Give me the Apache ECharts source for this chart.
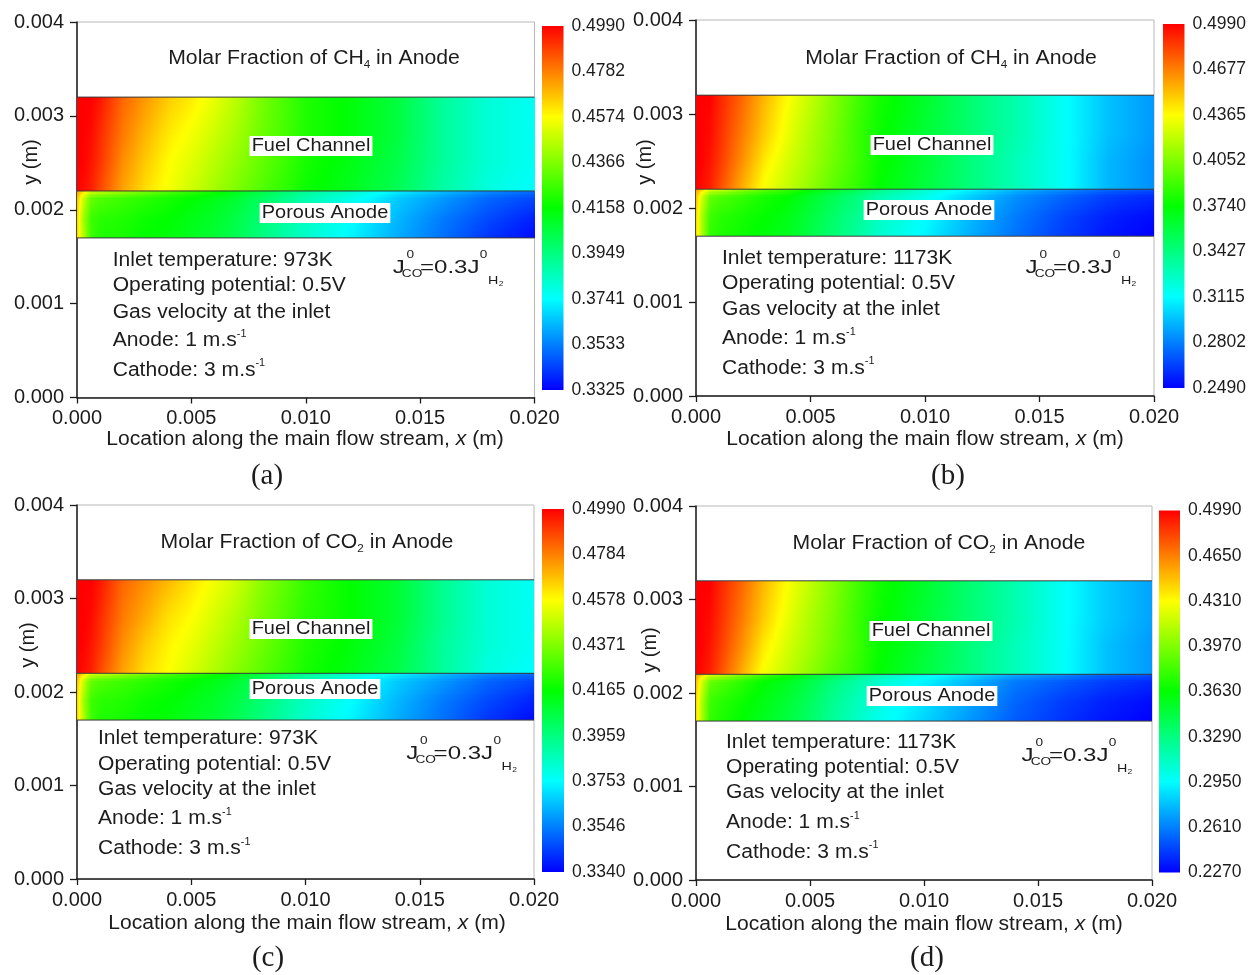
<!DOCTYPE html>
<html><head><meta charset="utf-8">
<script src="https://cdn.jsdelivr.net/npm/echarts@6/dist/echarts.min.js"></script>
<style>html,body{margin:0;padding:0;background:#fff}#c{width:1249px;height:975px}</style>
</head><body><div id="c"></div>
<script>
// ---------------- DATA ----------------
// sample x positions (m) along flow
const xSamples = [0, 0.0002, 0.0006, 0.001, 0.002, 0.003, 0.004, 0.005, 0.006, 0.007, 0.008, 0.010, 0.012, 0.014, 0.016, 0.018, 0.020];
// sample rows (m): fuel channel and porous anode
const channelY = [0.0022, 0.0025, 0.0028, 0.0032];
const anodeY = [0.0017, 0.0019, 0.00212, 0.0022];
const interfaceY = [0.0017, 0.0022, 0.0032];

// (a) CH4, 973 K
const chA = [
 [0.4990,0.4973,0.4940,0.4873,0.4724,0.4624,0.4557,0.4491,0.4424,0.4357,0.4291,0.4174,0.4108,0.4024,0.3891,0.3791,0.3741],
 [0.4990,0.4990,0.4957,0.4907,0.4757,0.4657,0.4574,0.4524,0.4457,0.4391,0.4324,0.4191,0.4124,0.4041,0.3908,0.3808,0.3758],
 [0.4990,0.4990,0.4973,0.4923,0.4790,0.4690,0.4607,0.4557,0.4491,0.4424,0.4341,0.4207,0.4141,0.4058,0.3908,0.3808,0.3758],
 [0.4990,0.4990,0.4990,0.4957,0.4824,0.4740,0.4657,0.4607,0.4540,0.4457,0.4357,0.4207,0.4141,0.4058,0.3908,0.3808,0.3758]
];
const anA = [
 [0.4657,0.4491,0.4257,0.4207,0.4191,0.4158,0.4141,0.4108,0.4074,0.4024,0.3958,0.3825,0.3725,0.3608,0.3508,0.3408,0.3342],
 [0.4657,0.4457,0.4257,0.4224,0.4207,0.4174,0.4158,0.4124,0.4091,0.4041,0.3974,0.3841,0.3741,0.3625,0.3525,0.3442,0.3375],
 [0.4690,0.4524,0.4324,0.4291,0.4257,0.4224,0.4191,0.4158,0.4124,0.4074,0.4008,0.3874,0.3775,0.3658,0.3575,0.3492,0.3442],
 [0.4740,0.4657,0.4524,0.4491,0.4424,0.4357,0.4291,0.4241,0.4191,0.4124,0.4058,0.3924,0.3825,0.3725,0.3641,0.3558,0.3508]
];
// (b) CH4, 1173 K
const chB = [
 [0.4990,0.4965,0.4915,0.4815,0.4565,0.4340,0.4215,0.4090,0.3965,0.3865,0.3740,0.3590,0.3440,0.3290,0.3140,0.2940,0.2840],
 [0.4990,0.4990,0.4940,0.4865,0.4640,0.4415,0.4265,0.4140,0.4015,0.3890,0.3765,0.3615,0.3440,0.3290,0.3140,0.2940,0.2840],
 [0.4990,0.4990,0.4965,0.4890,0.4690,0.4490,0.4315,0.4165,0.4040,0.3890,0.3765,0.3615,0.3465,0.3315,0.3140,0.2965,0.2865],
 [0.4990,0.4990,0.4990,0.4915,0.4740,0.4540,0.4365,0.4215,0.4065,0.3915,0.3790,0.3640,0.3465,0.3315,0.3140,0.2965,0.2865]
];
const anB = [
 [0.4490,0.4190,0.3865,0.3815,0.3765,0.3715,0.3665,0.3565,0.3465,0.3365,0.3240,0.3090,0.2915,0.2765,0.2640,0.2540,0.2490],
 [0.4490,0.4190,0.3890,0.3840,0.3790,0.3740,0.3690,0.3590,0.3490,0.3390,0.3265,0.3115,0.2940,0.2790,0.2665,0.2565,0.2515],
 [0.4540,0.4290,0.3990,0.3940,0.3865,0.3790,0.3740,0.3640,0.3540,0.3440,0.3315,0.3165,0.2990,0.2840,0.2740,0.2640,0.2590],
 [0.4615,0.4490,0.4290,0.4240,0.4090,0.3965,0.3865,0.3740,0.3640,0.3540,0.3415,0.3240,0.3090,0.2940,0.2840,0.2740,0.2690]
];
// (c) CO2, 973 K
const chC = [
 [0.4990,0.4974,0.4941,0.4875,0.4726,0.4627,0.4578,0.4512,0.4446,0.4380,0.4314,0.4198,0.4132,0.4050,0.3918,0.3802,0.3753],
 [0.4990,0.4990,0.4957,0.4908,0.4759,0.4660,0.4594,0.4545,0.4479,0.4413,0.4347,0.4215,0.4149,0.4066,0.3918,0.3819,0.3769],
 [0.4990,0.4990,0.4974,0.4924,0.4792,0.4710,0.4627,0.4578,0.4512,0.4446,0.4363,0.4231,0.4165,0.4083,0.3934,0.3819,0.3769],
 [0.4990,0.4990,0.4990,0.4957,0.4825,0.4759,0.4693,0.4627,0.4561,0.4495,0.4396,0.4248,0.4165,0.4083,0.3934,0.3819,0.3769]
];
const anC = [
 [0.4660,0.4495,0.4264,0.4215,0.4198,0.4165,0.4149,0.4116,0.4083,0.4033,0.3967,0.3835,0.3736,0.3621,0.3522,0.3423,0.3357],
 [0.4660,0.4462,0.4264,0.4231,0.4215,0.4182,0.4165,0.4132,0.4099,0.4050,0.3984,0.3852,0.3753,0.3637,0.3538,0.3456,0.3390],
 [0.4693,0.4528,0.4330,0.4297,0.4264,0.4231,0.4198,0.4165,0.4132,0.4083,0.4017,0.3885,0.3786,0.3670,0.3588,0.3505,0.3456],
 [0.4743,0.4660,0.4528,0.4495,0.4429,0.4363,0.4297,0.4248,0.4198,0.4132,0.4066,0.3934,0.3835,0.3736,0.3654,0.3571,0.3522]
];
// (d) CO2, 1173 K
const chD = [
 [0.4990,0.4963,0.4908,0.4800,0.4528,0.4283,0.4147,0.4011,0.3875,0.3766,0.3630,0.3467,0.3304,0.3140,0.2977,0.2787,0.2678],
 [0.4990,0.4990,0.4936,0.4854,0.4609,0.4364,0.4201,0.4065,0.3929,0.3793,0.3657,0.3494,0.3304,0.3140,0.2977,0.2787,0.2678],
 [0.4990,0.4990,0.4963,0.4881,0.4664,0.4446,0.4256,0.4092,0.3956,0.3793,0.3657,0.3494,0.3331,0.3168,0.2977,0.2814,0.2705],
 [0.4990,0.4990,0.4990,0.4908,0.4718,0.4500,0.4310,0.4147,0.3984,0.3820,0.3684,0.3521,0.3331,0.3168,0.2977,0.2814,0.2705]
];
const anD = [
 [0.4446,0.4120,0.3766,0.3712,0.3630,0.3548,0.3467,0.3358,0.3222,0.3113,0.3004,0.2841,0.2678,0.2515,0.2406,0.2324,0.2270],
 [0.4446,0.4120,0.3793,0.3739,0.3657,0.3576,0.3494,0.3385,0.3249,0.3140,0.3032,0.2868,0.2705,0.2542,0.2433,0.2352,0.2297],
 [0.4500,0.4228,0.3902,0.3848,0.3739,0.3630,0.3548,0.3440,0.3304,0.3195,0.3086,0.2923,0.2760,0.2596,0.2515,0.2433,0.2379],
 [0.4582,0.4446,0.4228,0.4174,0.3984,0.3820,0.3684,0.3548,0.3412,0.3276,0.3168,0.3004,0.2868,0.2732,0.2651,0.2542,0.2488]
];

// colour-bar tick labels (bottom -> top)
const ticksA = ['0.3325','0.3533','0.3741','0.3949','0.4158','0.4366','0.4574','0.4782','0.4990'];
const ticksB = ['0.2490','0.2802','0.3115','0.3427','0.3740','0.4052','0.4365','0.4677','0.4990'];
const ticksC = ['0.3340','0.3546','0.3753','0.3959','0.4165','0.4371','0.4578','0.4784','0.4990'];
const ticksD = ['0.2270','0.2610','0.2950','0.3290','0.3630','0.3970','0.4310','0.4650','0.4990'];
const rangeA = [0.3325, 0.4990];
const rangeB = [0.2490, 0.4990];
const rangeC = [0.3340, 0.4990];
const rangeD = [0.2270, 0.4990];

const species = ['CH', 'CH', 'CO', 'CO'];
const speciesSub = ['4', '4', '2', '2'];
const inletTemps = ['973K', '1173K', '973K', '1173K'];
const panelTags = ['(a)', '(b)', '(c)', '(d)'];

// ---------------- STYLE / LAYOUT ----------------
const FONT = '"Liberation Sans", Arial, Helvetica, sans-serif';
const SERIF = '"Liberation Serif", "Times New Roman", serif';
const INK = '#1c1c1c';
const RAMP = ['#0000ff', '#00ffff', '#00ff00', '#ffff00', '#ff0000'];

const layouts = [
 { plot:[77,22,457.5,375.5], cb:[542,26,21.5,364], title:[314,58], fuel:[311,146], porous:[325,213], infoX:112.7, infoY:[261,286,312.5,341,370.5], jf:[392.7,268], xname:[305,439], yname:[31,162], tag:[267,476] },
 { plot:[696,20,458,376], cb:[1163,24,22,364], title:[951,58], fuel:[932,145], porous:[929,210], infoX:722, infoY:[258.5,283.5,310,339,368.5], jf:[1025.6,268], xname:[925,439], yname:[645,162], tag:[948,476] },
 { plot:[77,505,457,374], cb:[542,509,22,363], title:[307,542], fuel:[311,629], porous:[315,689], infoX:98, infoY:[739,765,790,819,849], jf:[406.3,754], xname:[307,923], yname:[28,645], tag:[268,958] },
 { plot:[696,506,456,374], cb:[1159,510.5,21,362], title:[939,543], fuel:[931,631], porous:[932,696], infoX:726, infoY:[743,768,793,823,852.5], jf:[1021.6,756], xname:[924,924], yname:[650,650], tag:[927,958] }
];

const fields = [
 {channel: chA, anode: anA, range: rangeA, ticks: ticksA},
 {channel: chB, anode: anB, range: rangeB, ticks: ticksB},
 {channel: chC, anode: anC, range: rangeC, ticks: ticksC},
 {channel: chD, anode: anD, range: rangeD, ticks: ticksD}
];

const RAMP_RGB = RAMP.map(h => [parseInt(h.slice(1,3),16), parseInt(h.slice(3,5),16), parseInt(h.slice(5,7),16)]);
function rampColor(t) {
  t = Math.max(0, Math.min(1, t));
  const s = t * (RAMP_RGB.length - 1);
  const i = Math.min(RAMP_RGB.length - 2, Math.floor(s));
  const f = s - i;
  const a = RAMP_RGB[i], b = RAMP_RGB[i + 1];
  return 'rgb(' + Math.round(a[0] + (b[0]-a[0])*f) + ',' + Math.round(a[1] + (b[1]-a[1])*f) + ',' + Math.round(a[2] + (b[2]-a[2])*f) + ')';
}

function cellData(xs, ys, vals) {
  const out = [];
  for (let j = 0; j < ys.length - 1; j++)
    for (let i = 0; i < xs.length - 1; i++)
      out.push([xs[i], xs[i+1], ys[j], ys[j+1], vals[j][i], vals[j][i+1], vals[j+1][i], vals[j+1][i+1]]);
  return out;
}

function fieldRenderer(range) {
  const lo = range[0], span = range[1] - range[0];
  const col = v => rampColor((v - lo) / span);
  return function (params, api) {
    const x0 = api.value(0), x1 = api.value(1), y0 = api.value(2), y1 = api.value(3);
    const v00 = api.value(4), v10 = api.value(5), v01 = api.value(6), v11 = api.value(7);
    const pTL = api.coord([x0, y1]), pBR = api.coord([x1, y0]);
    const h = pBR[1] - pTL[1];
    const xa = Math.round(pTL[0]), xb = Math.round(pBR[0]);
    const K = Math.max(1, Math.round(h / 1.5));
    const children = [];
    for (let k = 0; k < K; k++) {
      const fTop = 1 - (k + 0.5) / K;
      const vl = v00 + (v01 - v00) * fTop;
      const vr = v10 + (v11 - v10) * fTop;
      const stops = [];
      for (let s = 0; s <= 6; s++) {
        const o = s / 6;
        stops.push({offset: o, color: col(vl + (vr - vl) * o)});
      }
      const ya = Math.round(pTL[1] + k * h / K), yb = Math.round(pTL[1] + (k + 1) * h / K);
      if (yb <= ya) continue;
      children.push({
        type: 'rect',
        shape: {x: xa, y: ya, width: Math.max(1, xb - xa), height: yb - ya},
        style: {fill: {type: 'linear', x: 0, y: 0, x2: 1, y2: 0, colorStops: stops}},
        silent: true
      });
    }
    return {type: 'group', children};
  };
}

const option = {animation: false, backgroundColor: '#ffffff', grid: [], xAxis: [], yAxis: [], series: [], graphic: []};

function txt(x, y, text, size, styleExtra, elExtra) {
  return Object.assign({
    type: 'text', x, y, z: 100, silent: true,
    style: Object.assign({text, fontSize: size, fontFamily: FONT, fill: INK, align: 'center', verticalAlign: 'middle'}, styleExtra || {})
  }, elExtra || {});
}

layouts.forEach((L, k) => {
  const F = fields[k];
  const gP = 2 * k, gC = 2 * k + 1;
  option.grid.push({left: L.plot[0], top: L.plot[1], width: L.plot[2], height: L.plot[3], show: true, borderColor: '#b8b8b8', borderWidth: 1, backgroundColor: 'transparent'});
  option.grid.push({left: L.cb[0], top: L.cb[1], width: L.cb[2], height: L.cb[3], show: false});

  option.xAxis.push({gridIndex: gP, type: 'value', min: 0, max: 0.02, interval: 0.005,
    axisLine: {show: true, onZero: false, lineStyle: {color: INK, width: 1.5}},
    axisTick: {show: true, length: 6, lineStyle: {color: INK, width: 1.3}},
    axisLabel: {fontSize: 20, fontFamily: FONT, color: INK, margin: 11, showMinLabel: true, showMaxLabel: true, formatter: v => v.toFixed(3)},
    splitLine: {show: false}});
  option.yAxis.push({gridIndex: gP, type: 'value', min: 0, max: 0.004, interval: 0.001,
    axisLine: {show: true, onZero: false, lineStyle: {color: INK, width: 1.5}},
    axisTick: {show: true, length: 7, lineStyle: {color: INK, width: 1.3}},
    axisLabel: {fontSize: 20, fontFamily: FONT, color: INK, margin: 13, showMinLabel: true, showMaxLabel: true, formatter: v => v.toFixed(3)},
    splitLine: {show: false}});
  option.xAxis.push({gridIndex: gC, type: 'value', min: 0, max: 1, show: false});
  option.yAxis.push({gridIndex: gC, type: 'value', min: 0, max: 8, interval: 1, position: 'right',
    axisLine: {show: false}, axisTick: {show: false}, splitLine: {show: false},
    axisLabel: {fontSize: 17.5, fontFamily: FONT, color: INK, margin: 8, showMinLabel: true, showMaxLabel: true,
      formatter: v => F.ticks[Math.round(v)]}});

  const xi = 2 * k, yi = 2 * k;
  option.series.push({type: 'custom', name: 'channel' + k, xAxisIndex: xi, yAxisIndex: yi, clip: true,
    encode: {x: [0, 1], y: [2, 3]}, data: cellData(xSamples, channelY, F.channel), renderItem: fieldRenderer(F.range), silent: true});
  option.series.push({type: 'custom', name: 'anode' + k, xAxisIndex: xi, yAxisIndex: yi, clip: true,
    encode: {x: [0, 1], y: [2, 3]}, data: cellData(xSamples, anodeY, F.anode), renderItem: fieldRenderer(F.range), silent: true});
  interfaceY.forEach(yv => {
    option.series.push({type: 'line', xAxisIndex: xi, yAxisIndex: yi, data: [[0, yv], [0.02, yv]], symbol: 'none', silent: true, z: 5,
      lineStyle: {color: '#3a3a3a', width: 1}});
  });
  // colour bar
  option.series.push({type: 'custom', xAxisIndex: 2 * k + 1, yAxisIndex: 2 * k + 1, data: [[0, 1, 0, 8]], encode: {x: [0, 1], y: [2, 3]}, silent: true,
    renderItem: (params, api) => {
      const pTL = api.coord([api.value(0), api.value(3)]), pBR = api.coord([api.value(1), api.value(2)]);
      const stops = RAMP.slice().reverse().map((c, i, arr) => ({offset: i / (arr.length - 1), color: c}));
      return {type: 'rect', shape: {x: pTL[0], y: pTL[1], width: pBR[0] - pTL[0], height: pBR[1] - pTL[1]},
        style: {fill: {type: 'linear', x: 0, y: 0, x2: 0, y2: 1, colorStops: stops}}};
    }});

  // texts
  const G = option.graphic;
  G.push(txt(L.title[0], L.title[1], '{n|Molar Fraction of ' + species[k] + '}{s|' + speciesSub[k] + '}{n| in Anode}', 20, {
    rich: {n: {fontSize: 20, fontFamily: FONT, fill: INK, lineHeight: 24}, s: {fontSize: 11, fontFamily: FONT, fill: INK, verticalAlign: 'bottom', lineHeight: 12}}},
    {scaleX: 1.06}));
  G.push(txt(L.fuel[0], L.fuel[1], 'Fuel Channel', 19, {backgroundColor: '#ffffff', padding: [1, 2, 0, 2]}, {scaleX: 1.05}));
  G.push(txt(L.porous[0], L.porous[1], 'Porous Anode', 19, {backgroundColor: '#ffffff', padding: [1, 2, 0, 2]}, {scaleX: 1.05}));
  const supRich = {n: {fontSize: 19.5, fontFamily: FONT, fill: INK, lineHeight: 24}, p: {fontSize: 10, fontFamily: FONT, fill: INK, verticalAlign: 'top', lineHeight: 12}};
  const lines = ['{n|Inlet temperature: ' + inletTemps[k] + '}', '{n|Operating potential: 0.5V}', '{n|Gas velocity at the inlet}', '{n|Anode: 1 m.s}{p|-1}', '{n|Cathode: 3 m.s}{p|-1}'];
  lines.forEach((t, i) => G.push(txt(L.infoX, L.infoY[i], t, 19.5, {align: 'left', rich: supRich}, {scaleX: 1.08})));
  // J formula (stacked super/subscripts)
  const jx = L.jf[0], jy = L.jf[1];
  G.push({type: 'group', x: jx, y: jy, z: 100, scaleX: 1.3, silent: true, children: [
    txt(0, 0, 'J', 18.5, {align: 'left'}),
    txt(10.6, -13, '0', 10.5, {align: 'left'}),
    txt(7, 6, 'CO', 10.5, {align: 'left'}),
    txt(21, 0, '=0.3J', 18.5, {align: 'left'}),
    txt(67, -13, '0', 10.5, {align: 'left'}),
    txt(73.3, 13, 'H', 11, {align: 'left'}),
    txt(81.5, 16, '2', 6.5, {align: 'left'})
  ]});
  G.push(txt(L.xname[0], L.xname[1], '{n|Location along the main flow stream, }{i|x}{n| (m)}', 20, {
    rich: {n: {fontSize: 20, fontFamily: FONT, fill: INK}, i: {fontSize: 20, fontFamily: FONT, fontStyle: 'italic', fill: INK}}},
    {scaleX: 1.055}));
  G.push(txt(L.yname[0], L.yname[1], 'y (m)', 20, null, {rotation: Math.PI / 2}));
  G.push(txt(L.tag[0], L.tag[1], panelTags[k], 29, {fontFamily: SERIF}));
});

const chart = echarts.init(document.getElementById('c'), null, {renderer: 'canvas'});
chart.setOption(option);
</script></body></html>
